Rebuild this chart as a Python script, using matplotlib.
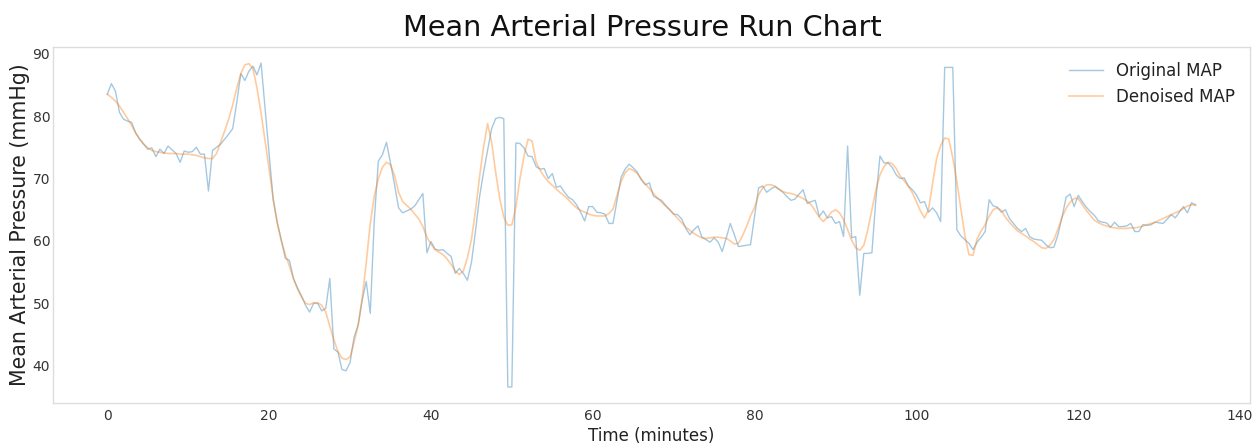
import numpy as np
import matplotlib
matplotlib.use("Agg")
import matplotlib.pyplot as plt

# Original MAP readings, one every 0.5 minute
original_map = [
    83.5, 85.2, 84.0, 80.6, 79.5, 79.2, 79.0, 77.3, 76.3, 75.5,
    74.7, 74.9, 73.5, 74.7, 74.0, 75.2, 74.6, 74.0, 72.6, 74.4,
    74.2, 74.3, 75.0, 73.9, 73.9, 68.0, 74.5, 75.0, 75.5, 76.3,
    77.1, 78.0, 82.2, 86.8, 85.7, 87.2, 88.0, 86.6, 88.5, 81.2,
    74.0, 66.6, 63.0, 60.2, 57.2, 56.9, 54.0, 52.5, 51.2, 49.7,
    48.6, 50.0, 50.0, 48.8, 49.2, 54.0, 42.7, 42.2, 39.4, 39.2,
    40.5, 44.6, 46.5, 50.5, 53.5, 48.4, 63.4, 72.8, 73.8, 75.8,
    72.5, 69.0, 65.3, 64.5, 64.8, 65.1, 65.6, 66.6, 67.6, 58.1,
    59.9, 58.7, 58.5, 58.6, 58.0, 57.5, 54.8, 55.6, 54.8, 53.7,
    56.5, 61.5, 67.0, 71.0, 74.5, 78.0, 79.6, 79.8, 79.6, 36.6,
    36.6, 75.7, 75.6, 74.9, 73.6, 73.5, 71.9, 71.5, 71.6, 70.0,
    70.8, 68.6, 68.8, 67.8, 67.0, 66.6, 65.8, 64.6, 63.2, 65.5,
    65.5, 64.6, 64.5, 64.3, 62.8, 62.8, 66.5, 70.2, 71.5, 72.3,
    71.7, 71.0, 69.8, 69.0, 69.3, 67.2, 66.8, 66.5, 65.7, 65.0,
    64.3, 64.2, 63.5, 62.0, 61.0, 61.8, 62.4, 60.6, 60.2, 59.8,
    60.5, 59.8, 58.3, 60.5, 62.8, 61.0, 59.1, 59.2, 59.3, 59.4,
    64.0, 68.5, 68.8, 67.8, 68.3, 68.7, 68.3, 67.8, 67.1, 66.5,
    66.7, 67.5, 68.2, 66.0, 66.3, 66.5, 63.9, 64.8, 63.7, 63.9,
    62.8, 63.1, 60.7, 75.2, 60.5, 60.7, 51.3, 58.0, 58.0, 58.1,
    66.8, 73.6, 72.5, 72.5, 71.8, 70.6, 70.0, 70.1, 68.8, 68.2,
    67.4, 66.1, 66.3, 64.6, 65.3, 64.5, 63.1, 87.8, 87.8, 87.8,
    61.8, 60.8, 60.2, 59.6, 58.6, 59.8, 60.6, 61.5, 66.6, 65.6,
    65.4, 64.6, 65.0, 63.6, 62.8, 62.0, 61.5, 62.0, 60.7, 60.3,
    60.2, 60.1, 59.4, 58.9, 59.0, 61.0, 63.8, 67.0, 67.5, 65.5,
    67.3, 66.3, 65.4, 64.7, 64.1, 63.2, 63.0, 62.9, 62.2, 63.0,
    62.3, 62.3, 62.4, 62.8, 61.5, 61.5, 62.6, 62.5, 62.6, 63.0,
    62.9, 62.8, 63.5, 64.2, 63.7, 64.6, 65.5, 64.5, 66.1, 65.8,
]

# Denoised MAP, same time base
denoised_map = [
    83.5, 83.0, 82.4, 81.6, 80.6, 79.6, 78.5, 77.3, 76.3, 75.5,
    74.9, 74.5, 74.3, 74.2, 74.1, 74.0, 74.0, 74.0, 73.9, 73.9,
    73.9, 73.8, 73.7, 73.5, 73.3, 73.2, 73.2, 74.0, 75.8, 77.6,
    79.5, 81.8, 84.5, 86.8, 88.2, 88.4, 87.6, 84.5, 80.5, 76.0,
    71.5, 66.8, 62.8, 60.0, 57.8, 56.0, 54.0, 52.3, 51.0, 50.0,
    49.8, 50.1, 50.1, 49.7, 48.6, 46.3, 44.2, 42.3, 41.2, 41.0,
    41.4, 43.8, 46.5, 50.8, 56.5, 62.8, 67.2, 70.0, 71.8, 72.6,
    72.2, 70.5, 67.8, 66.3, 65.7, 65.1, 64.3, 63.5, 62.3, 60.6,
    59.5, 58.6, 58.2, 57.8, 57.1, 56.2, 55.2, 54.6, 55.2, 57.3,
    60.2, 64.8, 70.2, 75.0, 78.8, 75.8, 71.0, 66.8, 63.8, 62.5,
    62.6, 65.5, 70.0, 73.6, 76.3, 76.0, 72.6, 71.3, 70.3, 69.5,
    68.9, 68.3, 67.7, 67.2, 66.6, 65.9, 65.3, 64.9, 64.6, 64.3,
    64.1, 64.0, 64.0, 64.0, 64.4, 65.1, 67.3, 69.5, 70.9, 71.6,
    71.3, 70.8, 69.9, 69.1, 68.4, 67.6, 66.9, 66.2, 65.6, 65.0,
    64.3, 63.6, 62.9, 62.2, 61.7, 61.2, 60.8, 60.5, 60.4, 60.5,
    60.6, 60.6, 60.5, 60.4, 60.0, 59.5, 59.6, 60.8, 62.3, 64.0,
    65.4, 67.4, 68.5, 69.0, 69.0, 68.8, 68.3, 67.9, 67.7, 67.6,
    67.4, 67.1, 66.8, 66.4, 65.8, 64.8, 63.8, 63.1, 63.8, 64.6,
    65.0, 64.5, 63.4, 61.8, 60.1, 58.9, 58.5, 59.3, 61.8, 65.0,
    68.2, 70.6, 71.9, 72.6, 72.4, 71.6, 70.4, 69.6, 68.8, 67.7,
    66.3, 64.8, 63.7, 65.0, 69.2, 73.2, 75.3, 76.5, 76.3, 73.3,
    69.5, 65.2, 60.8, 57.8, 57.7, 60.3, 61.6, 62.6, 64.0, 65.0,
    65.3, 64.9, 63.8, 63.0, 62.3, 61.6, 61.2, 60.8, 60.3, 59.9,
    59.4, 58.9, 58.8, 59.3, 60.2, 61.9, 63.8, 65.2, 66.2, 66.8,
    66.8, 65.8, 64.9, 64.1, 63.3, 62.9, 62.6, 62.4, 62.2, 62.1,
    62.0, 62.0, 62.0, 62.1, 62.1, 62.2, 62.4, 62.6, 62.8, 63.0,
    63.3, 63.6, 63.9, 64.2, 64.5, 64.8, 65.2, 65.6, 65.8, 65.7,
]

sample_interval_min = 0.5
time_min = np.arange(len(original_map)) * sample_interval_min
time_den = np.arange(len(denoised_map)) * sample_interval_min

plt.rcParams['font.family'] = ['DejaVu Sans']

fig = plt.figure(figsize=(12.6, 4.46), dpi=100)
ax = fig.add_axes([0.042, 0.096, 0.950, 0.799])

ax.plot(time_min, original_map, color='#1f77b4', alpha=0.4, lw=1.0, label='Original MAP')
ax.plot(time_den, denoised_map, color='#ff7f0e', alpha=0.4, lw=1.2, label='Denoised MAP')

ax.set_title('Mean Arterial Pressure Run Chart', fontsize=20.7, color='#111111',
             pad=8, x=0.4925)
ax.set_xlabel('Time (minutes)', fontsize=12, color='#222222', labelpad=3)
ax.set_ylabel('Mean Arterial Pressure (mmHg)', fontsize=14.8, color='#222222', labelpad=2)

ax.set_xticks([0, 20, 40, 60, 80, 100, 120, 140])
ax.set_yticks([40, 50, 60, 70, 80, 90])
ax.tick_params(axis='x', length=0, labelsize=10, labelcolor='#333333', pad=4)
ax.tick_params(axis='y', length=0, labelsize=10, labelcolor='#333333', pad=2)

for s in ax.spines.values():
    s.set_color('#dddddd')
    s.set_linewidth(1.0)

leg = ax.legend(loc='upper right', fontsize=12, frameon=True, framealpha=0.8,
                edgecolor='none', handlelength=2.0)
for t in leg.get_texts():
    t.set_color('#222222')

fig.savefig('out.png', dpi=100, facecolor='white')
